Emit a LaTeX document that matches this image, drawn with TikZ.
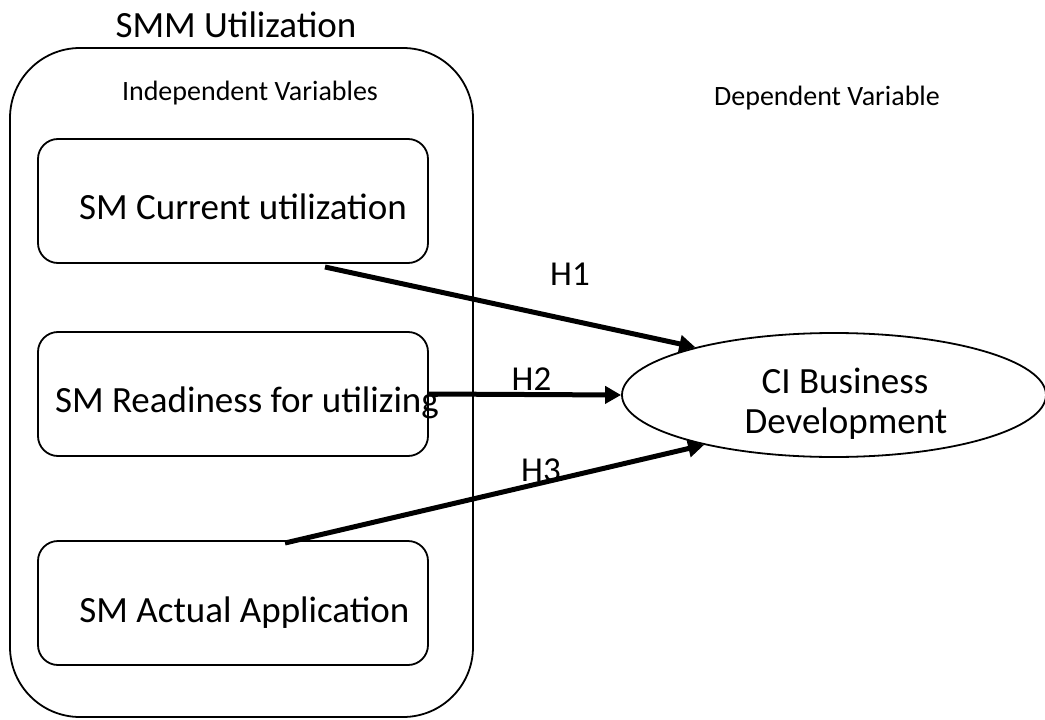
\documentclass[tikz,border=0pt]{standalone}
\usepackage{fontspec}
\setmainfont{Carlito}
\usetikzlibrary{shapes.geometric,arrows.meta}
\begin{document}
\begin{tikzpicture}[x=1pt,y=-1pt,
  outline/.style={draw,line width=1.8pt,inner sep=0pt},
  box/.style={outline,rounded corners=20pt,minimum width=390pt,minimum height=124pt},
  big/.style={font=\fontsize{37}{40}\selectfont,inner sep=0pt,anchor=base},
  hlabel/.style={font=\fontsize{35}{40}\selectfont,inner sep=0pt,anchor=base},
  small/.style={font=\fontsize{28}{32}\selectfont,inner sep=0pt,anchor=base},
  hyp/.style={line width=5pt,-{Triangle[length=16pt,width=17pt]}}]
\useasboundingbox (0,0) rectangle (1045,720);
% container
\node[outline,rounded corners=70pt,minimum width=463pt,minimum height=669pt] (outer) at (241.5,382.5) {};
\node[big] (title) at (236,37) {SMM Utilization};
\node[small] (indep) at (250,100) {Independent Variables};
\node[small] (dep) at (827,105) {Dependent Variable};
% boxes
\node[box] (b1) at (233,201) {};
\node[box] (b2) at (233,394) {};
\node[box] (b3) at (233,603) {};
\node[big] (t1) at (243,219) {SM Current utilization};
\node[big] (t2) at (247,412) {SM Readiness for utilizing};
\node[big] (t3) at (244.5,622) {SM Actual Application};
% ellipse
\node[outline,ellipse,minimum width=424pt,minimum height=124pt] (ci) at (834,395) {};
\node[big] (ci1) at (845,393) {CI Business};
\node[big] (ci2) at (846,433) {Development};
% arrows
\coordinate (s1) at (325,267);
\coordinate (s3) at (285,543);
\draw[hyp] (s1) -- (ci.161);
\draw[hyp] (b2.east) -- (ci.west);
\draw[hyp] (s3) -- (ci.201);
\node[hlabel] (h1) at (570,285) {H1};
\node[hlabel] (h2) at (531.5,390) {H2};
\node[hlabel] (h3) at (541,481) {H3};
\end{tikzpicture}
\end{document}
